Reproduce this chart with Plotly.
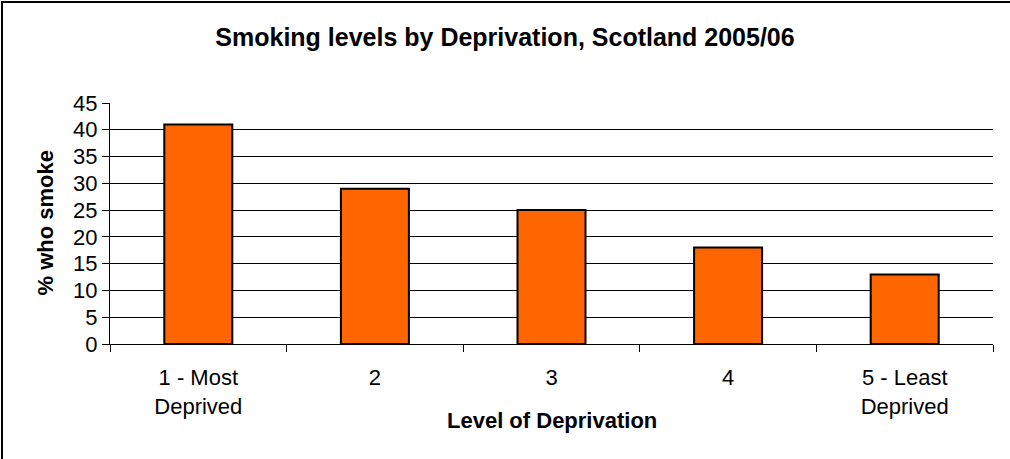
import plotly.graph_objects as go

categories = ["1 - Most<br>Deprived", "2", "3", "4", "5 - Least<br>Deprived"]
values = [41, 29, 25, 18, 13]
y_ticks = [0, 5, 10, 15, 20, 25, 30, 35, 40, 45]

W, H = 1010, 459
L, R, T, B = 110, 17, 103, 115
pw, ph = W - L - R, H - T - B

def px_x(x):
    return (x - L) / pw

def px_y(y):
    return (H - B - y) / ph

FONT = "Liberation Sans, Arial, sans-serif"

fig = go.Figure(go.Bar(
    x=categories, y=values,
    marker=dict(color="#FF6600", line=dict(color="#000000", width=2)),
))

fig.update_layout(
    width=W, height=H,
    margin=dict(l=L, r=R, t=T, b=B),
    paper_bgcolor="white", plot_bgcolor="white",
    bargap=0.615,
    showlegend=False,
    font=dict(family=FONT, color="black", size=22),
    title=dict(text="<b>Smoking levels by Deprivation, Scotland 2005/06</b>",
               x=0.5, xanchor="center", y=1 - 37 / H, yanchor="middle",
               font=dict(size=25, family=FONT, color="black")),
    xaxis=dict(type="category", showline=True, linecolor="black", linewidth=1,
               ticks="outside", tickson="boundaries", ticklen=7, tickcolor="black",
               showgrid=False, tickfont=dict(size=22), ticklabelstandoff=14),
    yaxis=dict(range=[0, 45], tickvals=y_ticks, showline=True, linecolor="black",
               linewidth=1, ticks="outside", ticklen=7, tickcolor="black",
               showgrid=True, gridcolor="#000000", gridwidth=1, zeroline=False,
               tickfont=dict(size=22)),
    annotations=[
        dict(text="<b>Level of Deprivation</b>", xref="paper", yref="paper",
             x=0.5, y=px_y(420), xanchor="center", yanchor="middle",
             showarrow=False, font=dict(size=22, family=FONT, color="black")),
        dict(text="<b>% who smoke</b>", xref="paper", yref="paper",
             x=px_x(45), y=0.5, xanchor="center", yanchor="middle", textangle=-90,
             showarrow=False, font=dict(size=22, family=FONT, color="black")),
    ],
    shapes=[
        dict(type="line", xref="paper", yref="paper", x0=px_x(1), x1=px_x(W),
             y0=px_y(2), y1=px_y(2), line=dict(color="black", width=2)),
        dict(type="line", xref="paper", yref="paper", x0=px_x(2), x1=px_x(2),
             y0=px_y(1), y1=px_y(H), line=dict(color="black", width=2)),
    ],
)

fig.write_html("out.html", config={"displayModeBar": False},
               post_script="document.body.style.margin='0';document.body.style.overflow='hidden';document.documentElement.style.overflow='hidden';")
